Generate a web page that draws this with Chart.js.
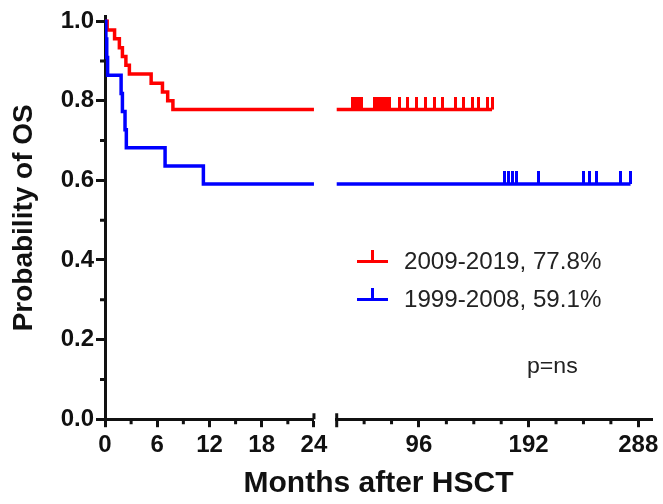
<!DOCTYPE html>
<html>
<head>
<meta charset="utf-8">
<script src="https://cdn.jsdelivr.net/npm/chart.js@4.4.0/dist/chart.umd.min.js"></script>
<style>
  body { margin: 0; background: #fff; }
  #wrap { position: relative; width: 663px; height: 504px; }
  .lg { position: absolute; font: 23px "Liberation Sans", Arial, sans-serif; color: #222; white-space: nowrap; line-height: 1; transform: scaleX(1.05); transform-origin: left top; }
  .bar { position: absolute; }
</style>
</head>
<body>
<div id="wrap">
  <canvas id="os" width="663" height="504"></canvas>
  <div class="bar" style="left:357px;top:260px;width:31px;height:3px;background:#ff0000"></div>
  <div class="bar" style="left:371px;top:250px;width:3px;height:12px;background:#ff0000"></div>
  <div class="lg" style="left:404px;top:250px">2009-2019, 77.8%</div>
  <div class="bar" style="left:357px;top:298px;width:31px;height:3px;background:#0000ff"></div>
  <div class="bar" style="left:371px;top:288px;width:3px;height:12px;background:#0000ff"></div>
  <div class="lg" style="left:404px;top:288px">1999-2008, 59.1%</div>
  <div class="lg" style="left:527px;top:355px;font-size:22px">p=ns</div>
</div>
<script>
// survival steps (months, probability) for the first 24 months
const redTime = [0, 0.25, 1.1, 1.65, 2.0, 2.4, 2.8, 5.3, 6.6, 7.2, 7.8, 24.4];
const redSurv = [1, 0.978, 0.956, 0.933, 0.911, 0.889, 0.867, 0.844, 0.822, 0.800, 0.778, 0.778];
const blueTime = [0, 0.1, 0.2, 0.3, 1.85, 2.0, 2.3, 2.45, 6.9, 11.3, 24.4];
const blueSurv = [1, 0.955, 0.909, 0.864, 0.818, 0.773, 0.727, 0.682, 0.636, 0.591, 0.591];

// plateau after the axis break
const rightStart = 20.5;
const redFinal = 0.778;
const blueFinal = 0.591;
const redCensor = [38, 40.7, 43.3, 46, 57.4, 60, 62.6, 65.3, 67.9, 70.5, 79.3, 86.3, 94.2, 101.3, 110, 117, 127.6, 134.6, 142.5, 147.8, 155.7, 160];
const blueCensor = [170.6, 174.1, 177.6, 181.2, 200.5, 240, 245.2, 251.4, 272.5, 281.2];

const xLeftTicks = [0, 6, 12, 18, 24];
const xLeftMinor = [3, 9, 15, 21];
const xRightTicks = [96, 192, 288];
const xRightMinor = [48, 72, 120, 144, 168, 216, 240, 264];
const yTicks = [0, 0.2, 0.4, 0.6, 0.8, 1.0];
const yMinor = [0.1, 0.3, 0.5, 0.7, 0.9];

const RED = "#ff0000", BLUE = "#0000ff", INK = "#111";
const FONT = "'Liberation Sans', Arial, sans-serif";

// censor mark: short tick pointing up from the line
function censorMark(color) {
  const c = document.createElement("canvas");
  c.width = 3; c.height = 26;
  const g = c.getContext("2d");
  g.fillStyle = color;
  g.fillRect(0, 0, 3, 13);
  return c;
}

const pts = (t, s) => t.map((x, i) => ({ x, y: s[i] }));
const flat = (t, v) => t.map(x => ({ x, y: v }));

const brokenAxis = {
  id: "brokenAxis",
  afterLayout(chart) {
    const a = chart.chartArea, w = a.right - a.left;
    const x1 = chart.scales.x, x2 = chart.scales.x2;
    x1.left = a.left; x1.right = a.left + w * 0.382; x1.width = x1.right - x1.left;
    x2.left = a.left + w * 0.4236; x2.right = a.right; x2.width = x2.right - x2.left;
    x2.top = x1.top; x2.bottom = x1.bottom; x2.height = x1.height;
    x1.configure(); x2.configure();
  },
  afterDraw(chart) {
    const { ctx } = chart;
    const y = chart.scales.y, x1 = chart.scales.x, x2 = chart.scales.x2;
    const base = x1.top;
    ctx.save();
    ctx.strokeStyle = INK;
    ctx.lineWidth = 3;
    ctx.beginPath();
    yMinor.forEach(v => { const p = y.getPixelForValue(v); ctx.moveTo(y.right - 5, p); ctx.lineTo(y.right, p); });
    xLeftMinor.forEach(v => { const p = x1.getPixelForValue(v); ctx.moveTo(p, base); ctx.lineTo(p, base + 5); });
    xRightMinor.forEach(v => { const p = x2.getPixelForValue(v); ctx.moveTo(p, base); ctx.lineTo(p, base + 5); });
    const e1 = x1.getPixelForValue(24), s2 = x2.getPixelForValue(24);
    ctx.moveTo(e1, base - 6); ctx.lineTo(e1, base);
    ctx.moveTo(s2, base - 6); ctx.lineTo(s2, base + 8);
    ctx.stroke();
    ctx.restore();
  }
};

const axisX = (min, max, ticks) => ({
  type: "linear", min, max,
  afterBuildTicks: s => { s.ticks = ticks.map(value => ({ value })); },
  afterFit: s => { s.paddingLeft = 0; s.paddingRight = 0; },
  ticks: { autoSkip: false, maxRotation: 0, padding: 4, color: INK, font: { family: FONT, size: 24, weight: "bold" } },
  grid: { drawOnChartArea: false, tickLength: 8, tickWidth: 3, tickColor: INK },
  border: { width: 3, color: INK }
});

const x2 = axisX(24, 300, xRightTicks);
x2.afterFit = s => { s.height = 0; s.paddingLeft = 0; s.paddingRight = 0; };

new Chart(document.getElementById("os"), {
  type: "line",
  data: {
    datasets: [
      { data: pts(blueTime, blueSurv), xAxisID: "x", borderColor: BLUE, borderWidth: 3.5, stepped: true, pointRadius: 0 },
      { data: pts(redTime, redSurv), xAxisID: "x", borderColor: RED, borderWidth: 3.5, stepped: true, pointRadius: 0 },
      { data: flat([rightStart, blueCensor[blueCensor.length - 1]], blueFinal), xAxisID: "x2", borderColor: BLUE, borderWidth: 3.5, pointRadius: 0 },
      { data: flat([rightStart, redCensor[redCensor.length - 1]], redFinal), xAxisID: "x2", borderColor: RED, borderWidth: 3.5, pointRadius: 0 },
      { data: flat(blueCensor, blueFinal), xAxisID: "x2", showLine: false, pointStyle: censorMark(BLUE) },
      { data: flat(redCensor, redFinal), xAxisID: "x2", showLine: false, pointStyle: censorMark(RED) }
    ]
  },
  options: {
    responsive: false,
    animation: false,
    devicePixelRatio: 1,
    layout: { padding: { top: 15, right: 11, left: 0, bottom: 0 } },
    plugins: {
      legend: { display: false },
      tooltip: { enabled: false },
      title: {
        display: true, position: "bottom", fullSize: false,
        text: "Months after HSCT", color: INK,
        font: { family: FONT, size: 30, weight: "bold" },
        padding: { top: 2, bottom: 2 }
      }
    },
    scales: {
      x: axisX(0, 24, xLeftTicks),
      x2: x2,
      y: {
        type: "linear", min: 0, max: 1.012,
        afterBuildTicks: s => { s.ticks = yTicks.map(value => ({ value })); },
        afterFit: s => { s.width = 105; },
        ticks: { padding: 2, color: INK, font: { family: FONT, size: 24, weight: "bold" }, callback: v => v.toFixed(1) },
        grid: { drawOnChartArea: false, tickLength: 9, tickWidth: 3, tickColor: INK },
        border: { width: 3, color: INK },
        title: { display: true, text: "Probability of OS", color: INK, padding: { top: 7, bottom: 0 }, font: { family: FONT, size: 28, weight: "bold" } }
      }
    }
  },
  plugins: [brokenAxis]
});
</script>
</body>
</html>
